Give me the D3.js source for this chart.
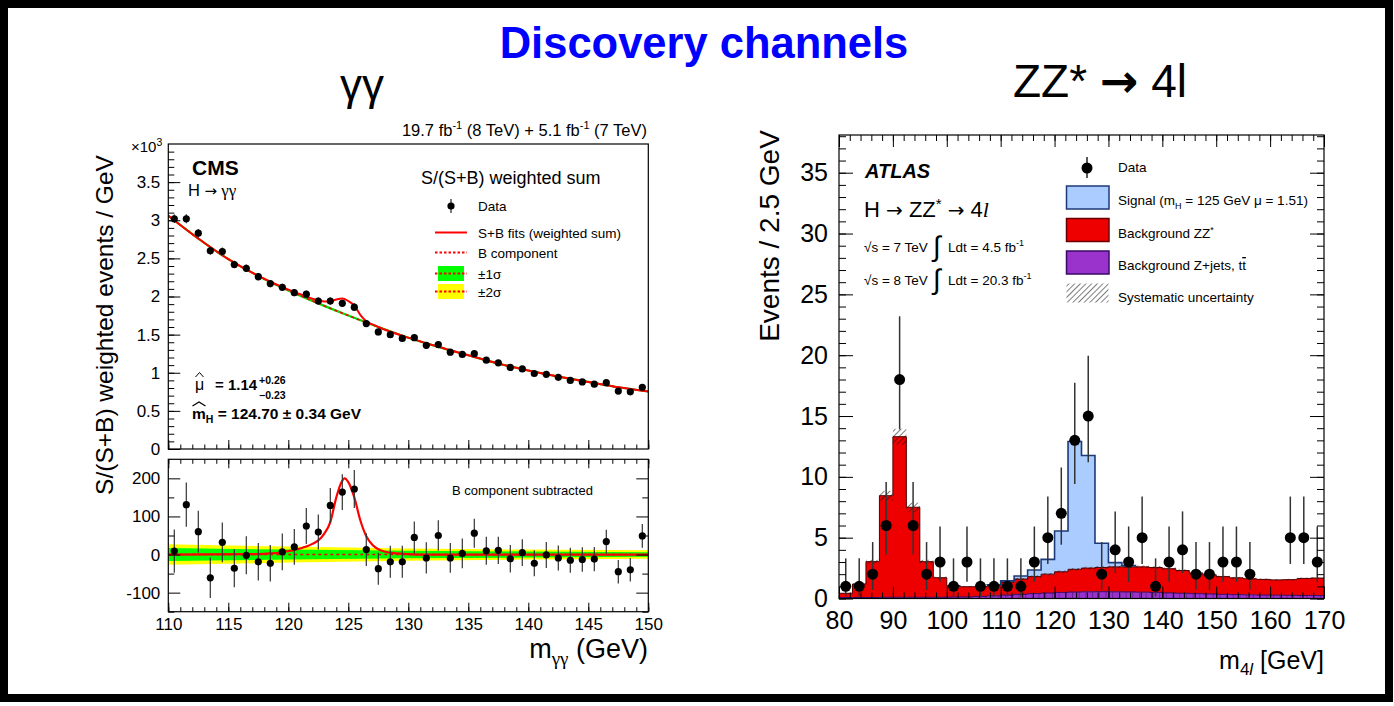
<!DOCTYPE html>
<html>
<head>
<meta charset="utf-8">
<script src="https://d3js.org/d3.v7.min.js"></script>
<style>
  body { margin: 0; background: #fff; }
  svg text { font-family: "Liberation Sans", Arial, sans-serif; }
</style>
</head>
<body>
<svg id="chart"></svg>
<script>
// ---------- CMS H -> gamma gamma ----------
const cmsMass = [110.5,111.5,112.5,113.5,114.5,115.5,116.5,117.5,118.5,119.5,120.5,121.5,122.5,123.5,124.5,125.5,126.5,127.5,128.5,129.5,
                 130.5,131.5,132.5,133.5,134.5,135.5,136.5,137.5,138.5,139.5,140.5,141.5,142.5,143.5,144.5,145.5,146.5,147.5,148.5,149.5];
// weighted events (x10^3)
const cmsEvents = [3.02,3.02,2.83,2.60,2.59,2.42,2.37,2.26,2.17,2.12,2.05,2.03,1.94,1.94,1.91,1.86,1.645,1.535,1.50,1.45,
                   1.46,1.36,1.37,1.27,1.24,1.25,1.165,1.13,1.07,1.05,0.99,0.98,0.94,0.90,0.88,0.85,0.87,0.76,0.75,0.81];
// background subtracted
const cmsSub = [9,131,60,-61,32,-36,-2,-19,-23,7,20,75,59,129,164,172,13,-37,-19,-19,
                45,-9,50,-9,3,56,10,11,-11,5,-23,-1,-9,-15,-13,-12,34,-45,-40,49];
const cmsErr = [57,58,55,53,52,50,50,49,48,48,47,47,46,46,47,50,43,42,42,42,
                42,41,40,39,39,38,37,36,36,35,34,34,33,33,32,32,31,31,31,31];

const bgMass = [110,112.5,115,117.5,120,122.5,125,127.5,130,132.5,135,137.5,140,142.5,145,147.5,150];
const bgFit  = [3.06,2.76,2.49,2.27,2.08,1.91,1.75,1.60,1.46,1.34,1.23,1.12,1.03,0.95,0.88,0.81,0.755];
const sbMass = [110,112.5,115,117.5,120,121,122,122.5,123,123.5,124,124.5,125,125.5,126,126.5,127,127.5,130,132.5,135,137.5,140,142.5,145,147.5,150];
const sbFit  = [3.06,2.76,2.49,2.27,2.09,2.03,1.97,1.95,1.935,1.935,1.96,1.975,1.94,1.88,1.76,1.675,1.635,1.60,1.46,1.34,1.23,1.12,1.03,0.95,0.88,0.81,0.755];
const sigMass = [110,117,118,119,120,120.5,121,121.5,122,122.5,123,123.5,124,124.4,124.7,125,125.5,126,126.5,127,127.5,128,129,130,131,150];
const sigFit  = [0,1,2,4,9,12,16,21,28,37,55,85,150,188,200,190,150,90,48,26,14,8,3,1,0,0];
const bandMass = [110,120,130,140,150];
const band1 = [17,13,10,8,6];
const band2 = [27,21,16,13,11];

// ---------- ATLAS H -> ZZ* -> 4l ----------
const binLo = [80,82.5,85,87.5,90,92.5,95,97.5,100,102.5,105,107.5,110,112.5,115,117.5,120,122.5,
               125,127.5,130,132.5,135,137.5,140,142.5,145,147.5,150,152.5,155,157.5,160,162.5,165,167.5];
const zjets = [0.08,0.08,0.08,0.1,0.1,0.1,0.1,0.1,0.12,0.13,0.17,0.22,0.28,0.34,0.4,0.45,0.5,0.53,
               0.55,0.56,0.55,0.54,0.52,0.5,0.46,0.43,0.4,0.37,0.34,0.32,0.3,0.28,0.27,0.26,0.25,0.24];
const zzBkg = [0.35,1.11,2.95,8.35,13.2,7.4,2.93,1.61,0.93,0.84,0.8,0.88,1.07,1.26,1.4,1.55,1.7,1.87,
               1.95,1.99,2.05,2.06,2.08,2.05,1.99,1.87,1.7,1.58,1.46,1.38,1.32,1.29,1.26,1.29,1.4,1.44];
const signal = [0,0,0,0,0,0,0,0,0,0,0,0.03,0.1,0.25,0.54,1.22,3.35,10.5,
                9.25,1.99,0.35,0.1,0,0,0,0,0,0,0,0,0,0,0,0,0,0];
const sysErr = [0.03,0.07,0.15,0.4,0.65,0.38,0.15,0.09,0.06,0.06,0.06,0.07,0.08,0.09,0.1,0.1,0.11,0.11,
                0.11,0.11,0.11,0.11,0.11,0.11,0.1,0.1,0.09,0.09,0.08,0.08,0.08,0.07,0.07,0.07,0.07,0.07];
const dataMass = [81.25,83.75,86.25,88.75,91.25,93.75,96.25,98.75,101.25,103.75,106.25,108.75,111.25,113.75,116.25,118.75,121.25,
                  123.75,126.25,128.75,131.25,133.75,136.25,138.75,141.25,143.75,146.25,148.75,151.25,153.75,156.25,163.75,166.25,168.75];
const dataN = [1,1,2,6,18,6,2,3,1,3,1,1,1,1,3,5,7,13,15,2,4,3,5,1,3,4,2,2,3,3,2,5,5,3];
// 68% Poisson intervals
const poisN  = [1,2,3,4,5,6,7,13,15,18];
const poisLo = [0.17,0.71,1.37,2.09,2.84,3.62,4.42,9.41,11.2,13.9];
const poisHi = [3.30,4.64,5.92,7.16,8.38,9.58,10.77,17.73,19.96,23.2];

const width = 1394, height = 706;
const svg = d3.select("#chart").attr("width", width).attr("height", height);
svg.append("rect").attr("width", width).attr("height", height).attr("fill", "#fff");

const defs = svg.append("defs");
const hatch = defs.append("pattern").attr("id", "hatch").attr("patternUnits", "userSpaceOnUse")
  .attr("width", 4).attr("height", 4).attr("patternTransform", "rotate(45)");
hatch.append("line").attr("x1", 0).attr("y1", 0).attr("x2", 0).attr("y2", 4).attr("stroke", "#111").attr("stroke-width", 1.1);
const purp = defs.append("pattern").attr("id", "purp").attr("patternUnits", "userSpaceOnUse")
  .attr("width", 6.7).attr("height", 10);
purp.append("rect").attr("width", 6.7).attr("height", 10).attr("fill", "#9933cc");
purp.append("line").attr("x1", 0.5).attr("y1", 0).attr("x2", 0.5).attr("y2", 10).attr("stroke", "#6a1f99").attr("stroke-width", 1);

// outer frame
svg.append("rect").attr("x", 4).attr("y", 4).attr("width", 1385).attr("height", 694)
  .attr("fill", "none").attr("stroke", "#000").attr("stroke-width", 8);

// titles
svg.append("text").attr("x", 704).attr("y", 58).attr("text-anchor", "middle")
  .attr("font-size", 43.5).attr("font-weight", "bold").attr("fill", "#0000ff").text("Discovery channels");
svg.append("text").attr("x", 362).attr("y", 100).attr("text-anchor", "middle")
  .attr("font-size", 44).attr("font-family", "Liberation Serif").text("γγ");
const zzT = svg.append("text").attr("x", 1100).attr("y", 97).attr("text-anchor", "middle").attr("font-size", 46);
zzT.append("tspan").text("ZZ* ");
zzT.append("tspan").attr("font-weight", "bold").attr("font-family", "DejaVu Sans").text("→");
zzT.append("tspan").text(" 4l");

// ================= CMS panel =================
const cmsX = d3.scaleLinear().domain([110, 150]).range([168.3, 648.3]);
const cmsYu = d3.scaleLinear().domain([0, 4]).range([449, 144]);
const cmsYl = d3.scaleLinear().domain([-150, 250]).range([611.7, 459.3]);

defs.append("clipPath").attr("id", "clipU").append("rect")
  .attr("x", 168.3).attr("y", 144).attr("width", 480).attr("height", 305);
defs.append("clipPath").attr("id", "clipL").append("rect")
  .attr("x", 168.3).attr("y", 459.3).attr("width", 480).attr("height", 152.4);

function styleAxis(g, size) {
  g.attr("font-family", null).attr("font-size", size);
  g.select(".domain").remove();
  g.selectAll(".tick line").attr("stroke", "#000").attr("stroke-width", 1);
}

// upper curves
const up = svg.append("g").attr("clip-path", "url(#clipU)");
const bgLine = d3.line().curve(d3.curveMonotoneX).x((d, i) => cmsX(bgMass[i])).y(d => cmsYu(d));
up.append("path").attr("d", bgLine(bgFit)).attr("fill", "none").attr("stroke", "#00e000").attr("stroke-width", 2.2);
up.append("path").attr("d", bgLine(bgFit)).attr("fill", "none").attr("stroke", "#ff0000")
  .attr("stroke-width", 1.6).attr("stroke-dasharray", "3,3");
const sbLine = d3.line().curve(d3.curveMonotoneX).x((d, i) => cmsX(sbMass[i])).y(d => cmsYu(d));
up.append("path").attr("d", sbLine(sbFit)).attr("fill", "none").attr("stroke", "#ff0000").attr("stroke-width", 2);

up.selectAll(".eu").data(cmsEvents).join("line")
  .attr("x1", (d, i) => cmsX(cmsMass[i])).attr("x2", (d, i) => cmsX(cmsMass[i]))
  .attr("y1", (d, i) => cmsYu(d + cmsErr[i] / 1000)).attr("y2", (d, i) => cmsYu(d - cmsErr[i] / 1000))
  .attr("stroke", "#222").attr("stroke-width", 1.2);
up.selectAll(".pu").data(cmsEvents).join("circle")
  .attr("cx", (d, i) => cmsX(cmsMass[i])).attr("cy", d => cmsYu(d)).attr("r", 3.6).attr("fill", "#000");

// upper axes
svg.append("g").attr("transform", "translate(168.3,0)")
  .call(d3.axisLeft(cmsYu).tickValues(d3.range(0, 3.51, 0.5)).tickSize(-12).tickPadding(8).tickFormat(d3.format("~g")))
  .call(g => styleAxis(g, 17));
svg.append("g").attr("transform", "translate(168.3,0)")
  .call(d3.axisLeft(cmsYu).tickValues(d3.range(0, 40).map(v => v / 10)).tickSize(-6).tickFormat(""))
  .call(g => styleAxis(g, 17));
svg.append("g").attr("transform", "translate(0,449)")
  .call(d3.axisBottom(cmsX).tickValues(d3.range(110, 151, 5)).tickSize(-9).tickFormat(""))
  .call(g => styleAxis(g, 17));
svg.append("g").attr("transform", "translate(0,449)")
  .call(d3.axisBottom(cmsX).tickValues(d3.range(110, 151, 1)).tickSize(-4.5).tickFormat(""))
  .call(g => styleAxis(g, 17));
svg.append("rect").attr("x", 168.3).attr("y", 144).attr("width", 480).attr("height", 305)
  .attr("fill", "none").attr("stroke", "#000").attr("stroke-width", 1.2);

// x10^3
const e3 = svg.append("text").attr("x", 131).attr("y", 152).attr("font-size", 15);
e3.append("tspan").text("×10");
e3.append("tspan").attr("font-size", 10.5).attr("dy", -6).text("3");

// lumi
const lumi = svg.append("text").attr("x", 647).attr("y", 136).attr("text-anchor", "end").attr("font-size", 16.5);
lumi.append("tspan").text("19.7 fb");
lumi.append("tspan").attr("font-size", 11).attr("dy", -7).text("-1");
lumi.append("tspan").attr("dy", 7).text(" (8 TeV) + 5.1 fb");
lumi.append("tspan").attr("font-size", 11).attr("dy", -7).text("-1");
lumi.append("tspan").attr("dy", 7).text(" (7 TeV)");

svg.append("text").attr("x", 192).attr("y", 175).attr("font-size", 21).attr("font-weight", "bold").text("CMS");
const hgg = svg.append("text").attr("x", 188).attr("y", 196).attr("font-size", 16.5);
hgg.append("tspan").text("H ");
hgg.append("tspan").attr("font-family", "DejaVu Sans").attr("font-size", 15).text("→");
hgg.append("tspan").attr("font-family", "Liberation Serif").attr("font-size", 17).text(" γγ");

// CMS legend
svg.append("text").attr("x", 421).attr("y", 184).attr("font-size", 18).text("S/(S+B) weighted sum");
const legY = [206, 232.5, 252.5, 273.5, 291.5];
const legTxt = ["Data", "S+B fits (weighted sum)", "B component", "±1σ", "±2σ"];
svg.selectAll(".clt").data(legTxt).join("text")
  .attr("x", 478).attr("y", (d, i) => legY[i] + 5).attr("font-size", 13.5).text(d => d);
svg.append("line").attr("x1", 451).attr("x2", 451).attr("y1", 199).attr("y2", 213).attr("stroke", "#222").attr("stroke-width", 1.2);
svg.append("circle").attr("cx", 451).attr("cy", 206).attr("r", 3.6).attr("fill", "#000");
svg.append("line").attr("x1", 435).attr("x2", 467).attr("y1", 232.5).attr("y2", 232.5).attr("stroke", "#ff0000").attr("stroke-width", 2);
svg.append("line").attr("x1", 435).attr("x2", 467).attr("y1", 252.5).attr("y2", 252.5).attr("stroke", "#ff0000")
  .attr("stroke-width", 1.8).attr("stroke-dasharray", "2.5,2");
svg.append("rect").attr("x", 438).attr("y", 266).attr("width", 26).attr("height", 15).attr("fill", "#00ff00");
svg.append("rect").attr("x", 438).attr("y", 284).attr("width", 26).attr("height", 15).attr("fill", "#ffff00");
[273.5, 291.5].forEach(y => svg.append("line").attr("x1", 435).attr("x2", 467).attr("y1", y).attr("y2", y)
  .attr("stroke", "#ff0000").attr("stroke-width", 1.8).attr("stroke-dasharray", "2.5,2"));

// fit results
svg.append("text").attr("x", 195).attr("y", 390).attr("font-size", 16).text("μ");
svg.append("path").attr("d", "M195.5,377 L199.5,372.5 L203.5,377").attr("fill", "none").attr("stroke", "#000").attr("stroke-width", 1);
const mu = svg.append("text").attr("x", 215).attr("y", 390).attr("font-size", 15).attr("font-weight", "bold");
mu.append("tspan").text("= 1.14");
svg.append("text").attr("x", 259).attr("y", 384).attr("font-size", 10.5).attr("font-weight", "bold").text("+0.26");
svg.append("text").attr("x", 259).attr("y", 399).attr("font-size", 10.5).attr("font-weight", "bold").text("−0.23");
const mh = svg.append("text").attr("x", 192).attr("y", 419).attr("font-size", 15.5).attr("font-weight", "bold");
mh.append("tspan").text("m");
mh.append("tspan").attr("font-size", 10.5).attr("dy", 4).text("H");
mh.append("tspan").attr("dy", -4).text(" = 124.70 ± 0.34 GeV");
svg.append("path").attr("d", "M192.5,406 L199,402 L205.5,406").attr("fill", "none").attr("stroke", "#000").attr("stroke-width", 1.2);

// lower panel
const lo = svg.append("g").attr("clip-path", "url(#clipL)");
const bandArea = (b) => d3.area().x((d, i) => cmsX(bandMass[i])).y0((d, i) => cmsYl(-b[i])).y1((d, i) => cmsYl(b[i]));
lo.append("path").attr("d", bandArea(band2)(band2)).attr("fill", "#ffff00");
lo.append("path").attr("d", bandArea(band1)(band1)).attr("fill", "#00ff00");
lo.append("line").attr("x1", cmsX(110)).attr("x2", cmsX(150)).attr("y1", cmsYl(0)).attr("y2", cmsYl(0))
  .attr("stroke", "#ff0000").attr("stroke-width", 1.6).attr("stroke-dasharray", "3,3");
const sigLine = d3.line().curve(d3.curveMonotoneX).x((d, i) => cmsX(sigMass[i])).y(d => cmsYl(d));
lo.append("path").attr("d", sigLine(sigFit)).attr("fill", "none").attr("stroke", "#ff0000").attr("stroke-width", 2.2);
lo.selectAll(".el").data(cmsSub).join("line")
  .attr("x1", (d, i) => cmsX(cmsMass[i])).attr("x2", (d, i) => cmsX(cmsMass[i]))
  .attr("y1", (d, i) => cmsYl(d + cmsErr[i])).attr("y2", (d, i) => cmsYl(d - cmsErr[i]))
  .attr("stroke", "#333").attr("stroke-width", 1.2);
lo.selectAll(".pl").data(cmsSub).join("circle")
  .attr("cx", (d, i) => cmsX(cmsMass[i])).attr("cy", d => cmsYl(d)).attr("r", 3.6).attr("fill", "#000");

svg.append("g").attr("transform", "translate(168.3,0)")
  .call(d3.axisLeft(cmsYl).tickValues([-100, 0, 100, 200]).tickSize(-12).tickPadding(8).tickFormat(d => String(d)))
  .call(g => styleAxis(g, 17));
svg.append("g").attr("transform", "translate(168.3,0)")
  .call(d3.axisLeft(cmsYl).tickValues([-150, -50, 50, 150]).tickSize(-6).tickFormat(""))
  .call(g => styleAxis(g, 17));
svg.append("g").attr("transform", "translate(648.3,0)")
  .call(d3.axisRight(cmsYl).tickValues([-100, 0, 100, 200]).tickSize(-12).tickFormat(""))
  .call(g => styleAxis(g, 17));
svg.append("g").attr("transform", "translate(648.3,0)")
  .call(d3.axisRight(cmsYl).tickValues([-150, -50, 50, 150]).tickSize(-6).tickFormat(""))
  .call(g => styleAxis(g, 17));
svg.append("g").attr("transform", "translate(0,611.7)")
  .call(d3.axisBottom(cmsX).tickValues(d3.range(110, 151, 5)).tickSize(-9).tickPadding(6))
  .call(g => styleAxis(g, 17));
svg.append("g").attr("transform", "translate(0,611.7)")
  .call(d3.axisBottom(cmsX).tickValues(d3.range(110, 151, 1)).tickSize(-4.5).tickFormat(""))
  .call(g => styleAxis(g, 17));
svg.append("g").attr("transform", "translate(0,459.3)")
  .call(d3.axisTop(cmsX).tickValues(d3.range(110, 151, 5)).tickSize(-9).tickFormat(""))
  .call(g => styleAxis(g, 17));
svg.append("g").attr("transform", "translate(0,459.3)")
  .call(d3.axisTop(cmsX).tickValues(d3.range(110, 151, 1)).tickSize(-4.5).tickFormat(""))
  .call(g => styleAxis(g, 17));
svg.append("rect").attr("x", 168.3).attr("y", 459.3).attr("width", 480).attr("height", 152.4)
  .attr("fill", "none").attr("stroke", "#000").attr("stroke-width", 1.2);
svg.append("text").attr("x", 452).attr("y", 495).attr("font-size", 13).text("B component subtracted");

// CMS axis titles
svg.append("text").attr("transform", "translate(113,325) rotate(-90)").attr("text-anchor", "middle")
  .attr("font-size", 24.5).text("S/(S+B) weighted events / GeV");
const mgg = svg.append("text").attr("x", 648).attr("y", 658).attr("text-anchor", "end").attr("font-size", 27);
mgg.append("tspan").text("m");
mgg.append("tspan").attr("font-size", 19).attr("font-family", "Liberation Serif").attr("dy", 7).text("γγ");
mgg.append("tspan").attr("dy", -7).text(" (GeV)");

// ================= ATLAS panel =================
const ax = d3.scaleLinear().domain([80, 170]).range([839, 1324]);
const ay = d3.scaleLinear().domain([0, 38.1]).range([598.5, 135]);
const binW = 2.5;

const zjTop = zjets;
const bgTop = zjets.map((v, i) => v + zzBkg[i]);
const totTop = bgTop.map((v, i) => v + signal[i]);

function steps(lowArr, highArr) {
  const pts = binLo.map((e, i) => [e, lowArr[i], highArr[i]]);
  const n = binLo.length - 1;
  pts.push([binLo[n] + binW, lowArr[n], highArr[n]]);
  return pts;
}
const stepArea = d3.area().curve(d3.curveStepAfter).x(d => ax(d[0])).y0(d => ay(d[1])).y1(d => ay(d[2]));
const stepLine = d3.line().curve(d3.curveStepAfter).x(d => ax(d[0])).y(d => ay(d[2]));
const zero = binLo.map(() => 0);

svg.append("path").attr("d", stepArea(steps(zero, zjTop))).attr("fill", "url(#purp)");
svg.append("path").attr("d", stepArea(steps(zjTop, bgTop))).attr("fill", "#ee0000");
svg.append("path").attr("d", stepArea(steps(bgTop, totTop))).attr("fill", "#aaccff");
svg.append("path").attr("d", stepLine(steps(zero, zjTop))).attr("fill", "none").attr("stroke", "#3a0a66").attr("stroke-width", 1);

svg.selectAll(".sys").data(sysErr).join("rect")
  .attr("x", (d, i) => ax(binLo[i])).attr("width", (d, i) => ax(binLo[i] + binW) - ax(binLo[i]))
  .attr("y", (d, i) => ay(bgTop[i] + d)).attr("height", (d, i) => ay(bgTop[i] - d) - ay(bgTop[i] + d))
  .attr("fill", "url(#hatch)");
svg.append("path").attr("d", stepLine(steps(zjTop, bgTop))).attr("fill", "none").attr("stroke", "#500000").attr("stroke-width", 1);
// signal outline (only where signal present)
const sigIdx = signal.map((v, i) => v > 0 ? i : -1).filter(i => i >= 0);
const sigPts = sigIdx.map(i => [binLo[i], bgTop[i], totTop[i]]);
const lastSig = sigIdx[sigIdx.length - 1];
sigPts.unshift([binLo[sigIdx[0]], bgTop[sigIdx[0]], bgTop[sigIdx[0]]]);
sigPts.push([binLo[lastSig] + binW, bgTop[lastSig], totTop[lastSig]]);
sigPts.push([binLo[lastSig] + binW, bgTop[lastSig + 1], bgTop[lastSig + 1]]);
svg.append("path").attr("d", stepLine(sigPts)).attr("fill", "none").attr("stroke", "#1c3a78").attr("stroke-width", 1.6);

// data
svg.selectAll(".ae").data(dataN).join("line")
  .attr("x1", (d, i) => ax(dataMass[i])).attr("x2", (d, i) => ax(dataMass[i]))
  .attr("y1", d => ay(poisHi[poisN.indexOf(d)])).attr("y2", d => ay(poisLo[poisN.indexOf(d)]))
  .attr("stroke", "#333").attr("stroke-width", 1.5);
svg.selectAll(".ap").data(dataN).join("circle")
  .attr("cx", (d, i) => ax(dataMass[i])).attr("cy", d => ay(d)).attr("r", 5.5).attr("fill", "#000");

// ATLAS axes
svg.append("g").attr("transform", "translate(839,0)")
  .call(d3.axisLeft(ay).tickValues(d3.range(0, 36, 5)).tickSize(-14).tickPadding(11))
  .call(g => styleAxis(g, 25));
svg.append("g").attr("transform", "translate(839,0)")
  .call(d3.axisLeft(ay).tickValues(d3.range(0, 39, 1)).tickSize(-7).tickFormat(""))
  .call(g => styleAxis(g, 25));
svg.append("g").attr("transform", "translate(1324,0)")
  .call(d3.axisRight(ay).tickValues(d3.range(0, 36, 5)).tickSize(-14).tickFormat(""))
  .call(g => styleAxis(g, 25));
svg.append("g").attr("transform", "translate(1324,0)")
  .call(d3.axisRight(ay).tickValues(d3.range(0, 39, 1)).tickSize(-7).tickFormat(""))
  .call(g => styleAxis(g, 25));
svg.append("g").attr("transform", "translate(0,598.5)")
  .call(d3.axisBottom(ax).tickValues(d3.range(80, 171, 10)).tickSize(-12).tickPadding(13))
  .call(g => styleAxis(g, 25));
svg.append("g").attr("transform", "translate(0,598.5)")
  .call(d3.axisBottom(ax).tickValues(d3.range(80, 171, 2)).tickSize(-6).tickFormat(""))
  .call(g => styleAxis(g, 25));
svg.append("g").attr("transform", "translate(0,135)")
  .call(d3.axisTop(ax).tickValues(d3.range(80, 171, 10)).tickSize(-12).tickFormat(""))
  .call(g => styleAxis(g, 25));
svg.append("g").attr("transform", "translate(0,135)")
  .call(d3.axisTop(ax).tickValues(d3.range(80, 171, 2)).tickSize(-6).tickFormat(""))
  .call(g => styleAxis(g, 25));
svg.append("rect").attr("x", 839).attr("y", 135).attr("width", 485).attr("height", 463.5)
  .attr("fill", "none").attr("stroke", "#000").attr("stroke-width", 1.2);

svg.append("text").attr("transform", "translate(779,236) rotate(-90)").attr("text-anchor", "middle")
  .attr("font-size", 28).text("Events / 2.5 GeV");
const m4l = svg.append("text").attr("x", 1324).attr("y", 669).attr("text-anchor", "end").attr("font-size", 25);
m4l.append("tspan").text("m");
m4l.append("tspan").attr("font-size", 17).attr("dy", 6).text("4");
m4l.append("tspan").attr("font-size", 17).attr("font-style", "italic").text("l");
m4l.append("tspan").attr("dy", -6).text(" [GeV]");

// ATLAS labels
svg.append("text").attr("x", 865).attr("y", 178).attr("font-size", 20).attr("font-weight", "bold")
  .attr("font-style", "italic").text("ATLAS");
const hzz = svg.append("text").attr("x", 864).attr("y", 217).attr("font-size", 22);
hzz.append("tspan").text("H ");
hzz.append("tspan").attr("font-family", "DejaVu Sans").attr("font-size", 20).text("→");
hzz.append("tspan").text(" ZZ");
hzz.append("tspan").attr("font-size", 15).attr("dy", -8).text("*");
hzz.append("tspan").attr("dy", 8).text(" ");
hzz.append("tspan").attr("font-family", "DejaVu Sans").attr("font-size", 20).text("→");
hzz.append("tspan").text(" 4");
hzz.append("tspan").attr("font-style", "italic").attr("font-family", "Liberation Serif").text("l");
[[252, "7", "4.5"], [285, "8", "20.3"]].forEach(r => {
  svg.append("text").attr("x", 864).attr("y", r[0]).attr("font-size", 13.5).text(`√s = ${r[1]} TeV`);
  svg.append("text").attr("x", 933).attr("y", r[0] + 4).attr("font-size", 28).attr("font-family", "DejaVu Sans").text("∫");
  const t = svg.append("text").attr("x", 948).attr("y", r[0]).attr("font-size", 13.5);
  t.append("tspan").text(`Ldt = ${r[2]} fb`);
  t.append("tspan").attr("font-size", 9).attr("dy", -6).text("-1");
});

// ATLAS legend
svg.append("line").attr("x1", 1087).attr("x2", 1087).attr("y1", 157).attr("y2", 178).attr("stroke", "#222").attr("stroke-width", 1.5);
svg.append("circle").attr("cx", 1087).attr("cy", 168).attr("r", 5.5).attr("fill", "#000");
svg.append("text").attr("x", 1118).attr("y", 172).attr("font-size", 13.5).text("Data");
const boxes = [[186, "#aaccff", "#1c3a78"], [218.5, "#ee0000", "#6a0000"], [251, "#9933cc", "#3a0a66"]];
boxes.forEach(b => svg.append("rect").attr("x", 1066.5).attr("y", b[0]).attr("width", 42.5).attr("height", 23)
  .attr("fill", b[1]).attr("stroke", b[2]).attr("stroke-width", 1.5));
svg.append("rect").attr("x", 1066.5).attr("y", 283.5).attr("width", 42).attr("height", 19).attr("fill", "url(#hatch)");
const s1 = svg.append("text").attr("x", 1118).attr("y", 205).attr("font-size", 13.5);
s1.append("tspan").text("Signal (m");
s1.append("tspan").attr("font-size", 9).attr("dy", 4).text("H");
s1.append("tspan").attr("dy", -4).text(" = 125 GeV μ = 1.51)");
const s2 = svg.append("text").attr("x", 1118).attr("y", 237.5).attr("font-size", 13.5);
s2.append("tspan").text("Background ZZ");
s2.append("tspan").attr("font-size", 9).attr("dy", -5).text("*");
const s3 = svg.append("text").attr("x", 1118).attr("y", 270).attr("font-size", 13.5);
s3.append("tspan").text("Background Z+jets, t");
s3.append("tspan").attr("text-decoration", "overline").text("t");
svg.append("text").attr("x", 1118).attr("y", 301.5).attr("font-size", 13.5).text("Systematic uncertainty");
</script>
</body>
</html>
